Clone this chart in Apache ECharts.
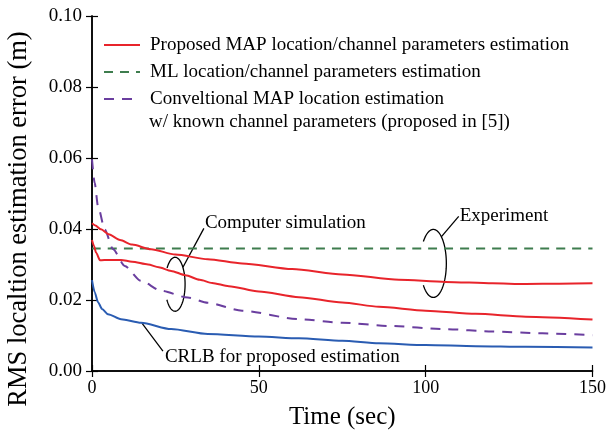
<!DOCTYPE html>
<html><head><meta charset="utf-8">
<script src="https://cdn.jsdelivr.net/npm/echarts@6/dist/echarts.min.js"></script>
<style>html,body{margin:0;padding:0;background:#fff}#c{width:609px;height:435px}</style>
</head><body><div id="c"></div>
<script>
// ---- data ----
const xTicks = [0, 50, 100, 150];
const yTicks = [0, 0.02, 0.04, 0.06, 0.08, 0.10];

const expMapT = [0, 1, 2.7, 5, 8.4, 12, 17.7, 25, 34.7, 45, 60, 75, 92, 106, 120, 130, 140, 150];
const expMapV = [0.0416, 0.0410, 0.0399, 0.0385, 0.0369, 0.0356, 0.0343, 0.0328, 0.0315, 0.0303, 0.0287, 0.0272, 0.0257, 0.0251, 0.0247, 0.0245, 0.0246, 0.0247];

const simMapT = [0, 0.6, 1.2, 2.4, 5, 8.7, 12, 16.8, 20, 23.7, 28, 32.3, 36, 41, 50, 62, 75, 86, 100, 115, 130, 150];
const simMapV = [0.0369, 0.0352, 0.0334, 0.0312, 0.0313, 0.0313, 0.0308, 0.0300, 0.0292, 0.0282, 0.0270, 0.0257, 0.0248, 0.0239, 0.0224, 0.0208, 0.0193, 0.0181, 0.0170, 0.0161, 0.0153, 0.0145];

const mlT = [0, 150];
const mlV = [0.0345, 0.0345];

const convT = [0, 0.8, 1.8, 3.8, 6.3, 9.8, 14.7, 20.7, 28.7, 34.7, 45, 62, 75, 89, 106, 120, 135, 150];
const convV = [0.0596, 0.0530, 0.0464, 0.0399, 0.0343, 0.0296, 0.0254, 0.0226, 0.0207, 0.0192, 0.0170, 0.0146, 0.0136, 0.0127, 0.0118, 0.0111, 0.0106, 0.0101];

const crlbT = [0, 0.8, 1.8, 3, 4.8, 8.7, 14.7, 23.7, 34.7, 50, 62, 75, 86, 100, 115, 130, 150];
const crlbV = [0.0256, 0.0222, 0.0194, 0.0175, 0.0160, 0.0146, 0.0136, 0.0118, 0.0104, 0.0097, 0.0092, 0.0085, 0.0078, 0.0073, 0.0070, 0.0068, 0.0066];

const names = [
  'Proposed MAP location/channel parameters estimation',
  'ML location/channel parameters estimation',
  'Conveltional MAP location estimation',
  'CRLB for proposed estimation'
];
const legendSecondLine = 'w/ known channel parameters (proposed in [5])';
const yAxisTitle = 'RMS localtion estimation error (m)';
const xAxisTitle = 'Time (sec)';

// ---- styling ----
const FONT = "'Liberation Serif','Times New Roman',serif";
const RED = '#e8242b', GREEN = '#3e7d4e', PURPLE = '#6a3e9f', BLUE = '#2a5cb2';
const pairs = (T, V) => T.map((t, i) => [t, V[i]]);

const chart = echarts.init(document.getElementById('c'), null, {renderer: 'canvas'});

const axisLine = {lineStyle: {color: '#000', width: 1.5}};
const tick = {inside: true, length: 6, lineStyle: {color: '#000', width: 1.2}};

const lineSeries = (name, data, color, type, z) => ({
  type: 'line', name, data, showSymbol: false, symbol: 'none', z,
  smooth: 0.25, smoothMonotone: 'x',
  lineStyle: {color, width: 2, type},
  itemStyle: {color}
});

chart.setOption({
  animation: false,
  backgroundColor: '#fff',
  grid: {left: 92, right: 16, top: 16, bottom: 63},
  xAxis: [{
    type: 'value', min: xTicks[0], max: xTicks[xTicks.length - 1], interval: xTicks[1] - xTicks[0],
    axisLine, axisTick: tick, splitLine: {show: false},
    axisLabel: {color: '#000', fontSize: 18, fontFamily: FONT, margin: 8},
    name: xAxisTitle, nameLocation: 'middle', nameGap: 34,
    nameTextStyle: {color: '#000', fontSize: 25, fontFamily: FONT}
  }, {
    type: 'value', position: 'top', min: xTicks[0], max: xTicks[xTicks.length - 1], interval: xTicks[1] - xTicks[0],
    axisLine, axisTick: tick, splitLine: {show: false}, axisLabel: {show: false}
  }],
  yAxis: [{
    type: 'value', min: yTicks[0], max: yTicks[yTicks.length - 1], interval: yTicks[1] - yTicks[0],
    axisLine, axisTick: tick, splitLine: {show: false},
    axisLabel: {color: '#000', fontSize: 19, fontFamily: FONT, margin: 10, formatter: v => v.toFixed(2)}
  }, {
    type: 'value', position: 'right', min: yTicks[0], max: yTicks[yTicks.length - 1], interval: yTicks[1] - yTicks[0],
    axisLine, axisTick: tick, splitLine: {show: false}, axisLabel: {show: false}
  }],
  legend: {
    orient: 'vertical', left: 103, top: 34, padding: 0, itemWidth: 36, itemHeight: 14, itemGap: 5,
    selectedMode: false, data: names.slice(0, 3),
    itemStyle: {opacity: 0, borderWidth: 0},
    textStyle: {color: '#000', fontSize: 19, fontFamily: FONT, lineHeight: 22, padding: [0, 0, 0, 5]}
  },
  series: [
    lineSeries(names[0], pairs(expMapT, expMapV), RED, 'solid', 3),
    lineSeries(names[0], pairs(simMapT, simMapV), RED, 'solid', 3),
    lineSeries(names[1], pairs(mlT, mlV), GREEN, [9, 7], 2),
    lineSeries(names[2], pairs(convT, convV), PURPLE, [10, 8], 2),
    lineSeries(names[3], pairs(crlbT, crlbV), BLUE, 'solid', 3)
  ]
});

// ---- annotations (anchored in data coordinates) ----
const px = (t, v) => chart.convertToPixel({xAxisIndex: 0, yAxisIndex: 0}, [t, v]);
function ellipsePts(c, rx, ry, gapFrom, gapTo) {
  const pts = [];
  for (let a = gapTo; a <= gapFrom + 360; a += 4) {
    const r = a * Math.PI / 180;
    pts.push([c[0] + rx * Math.cos(r), c[1] - ry * Math.sin(r)]);
  }
  return pts;
}
const blk = {stroke: '#000', lineWidth: 1.3, fill: null};
const txt = (p, text) => ({type: 'text', x: p[0], y: p[1], silent: true,
  style: {text, fill: '#000', font: '19px ' + FONT, textAlign: 'left', textVerticalAlign: 'middle'}});
const seg = (a, b) => ({type: 'line', silent: true, shape: {x1: a[0], y1: a[1], x2: b[0], y2: b[1]}, style: blk});

const graphics = [
  {type: 'polyline', silent: true, shape: {points: ellipsePts(px(24.9, 0.02444), 10, 27, 145, 215)}, style: blk},
  seg(px(27.25, 0.02921), px(33.53, 0.04017)),
  txt(px(33.83, 0.04157), 'Computer simulation'),
  {type: 'polyline', silent: true, shape: {points: ellipsePts(px(102.3, 0.0303), 13, 34, 140, 220)}, style: blk},
  seg(px(104.8, 0.03792), px(109.9, 0.04354)),
  txt(px(110.2, 0.04368), 'Experiment'),
  seg(px(14.97, 0.01348), px(21.26, 0.00562)),
  txt(px(21.86, 0.00393), names[3]),
  {type: 'text', left: 149, top: 113, silent: true,
    style: {text: legendSecondLine, fill: '#000', font: '19px ' + FONT}},
  {type: 'text', x: 19, y: 219, rotation: Math.PI / 2, silent: true,
    style: {text: yAxisTitle, fill: '#000', font: '26.5px ' + FONT, textAlign: 'center', textVerticalAlign: 'middle'}}
];
chart.setOption({graphic: graphics});
</script>
</body></html>
